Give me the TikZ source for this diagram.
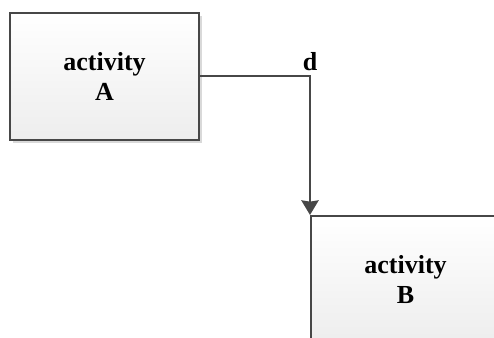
\documentclass[tikz,border=0pt]{standalone}
\usepackage{fontspec}
\setmainfont{Liberation Serif}
\usetikzlibrary{arrows.meta,shadows}
\definecolor{edge}{HTML}{474747}
\tikzset{
	activitybox/.style = {draw = edge, line width = 1.5pt, minimum width = 141.75pt, minimum height = 95.25pt,
		top color = white, bottom color = black!7, align = center, font = \fontsize{19.5}{22.5}\selectfont\bfseries,
		drop shadow = {shadow xshift = 2pt, shadow yshift = -2pt, fill = black!25, opacity = .6}},
	flow/.style = {draw = edge, line width = 1.5pt, -{Stealth[length = 11pt, width = 13pt, inset = 1pt]}}
}
\begin{document}
\begin{tikzpicture} [x = .75pt, y = -.75pt]
			\useasboundingbox (0,0) rectangle (494,338);
			\clip (0,0) rectangle (494,338);
			
			\node [activitybox] (actA) at (104.5,76.5) {activity\\A};
			\node [activitybox] (actB) at (405.5,279.5) {activity\\B};
			
			\draw [flow] (actA.east) -| (actB.north west) node [pos = .5, above = 0pt, font = \fontsize{19.5}{22.5}\selectfont\bfseries] (lblD) {d};
		\end{tikzpicture}
\end{document}
